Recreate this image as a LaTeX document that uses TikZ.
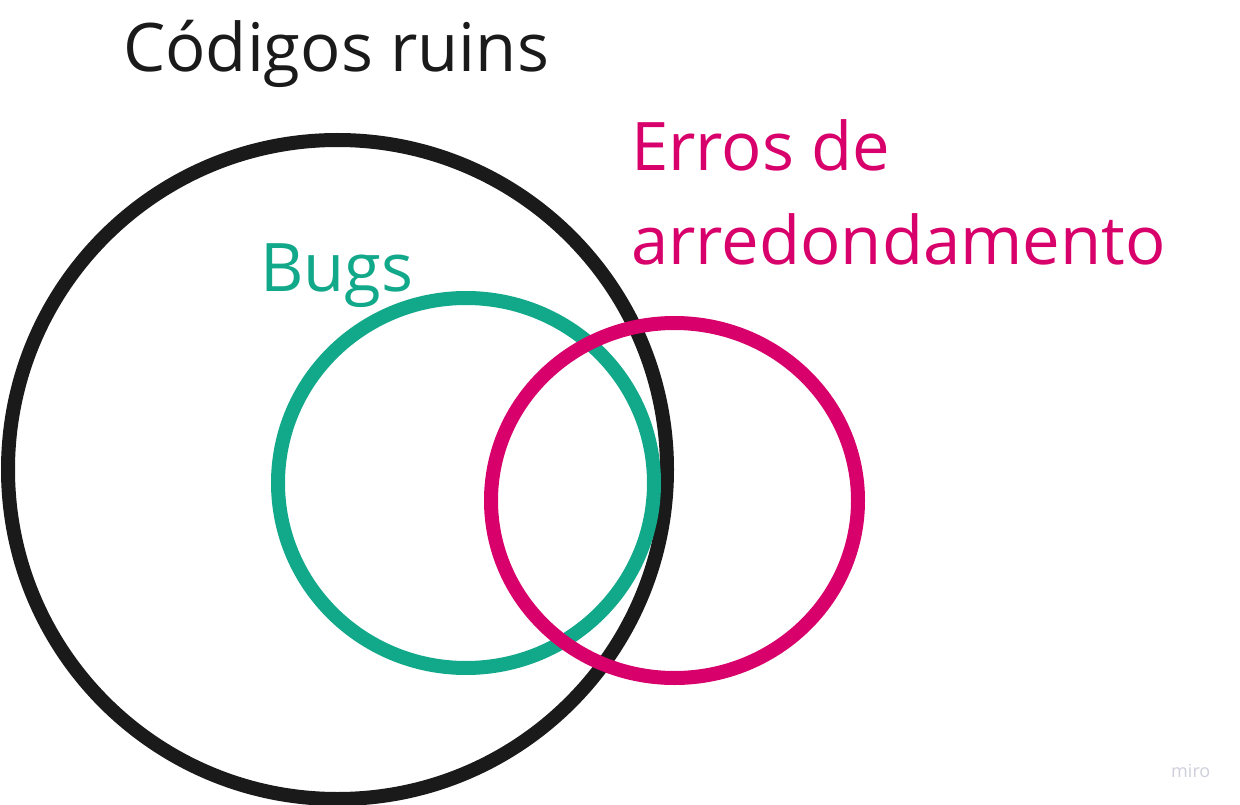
\documentclass[tikz,border=0pt]{standalone}
\usepackage{fontspec}
\setmainfont{Open Sans}
\definecolor{inkblack}{HTML}{1A1A1A}
\definecolor{bugteal}{HTML}{12A88A}
\definecolor{roundpink}{HTML}{D8006A}
\definecolor{logogray}{HTML}{CFCFDC}
\begin{document}
\begin{tikzpicture}[x=1pt,y=-1pt,
  ring/.style={line width=14pt},
  label/.style={anchor=base west,inner sep=0pt,font=\fontsize{67}{94}\selectfont}]
\useasboundingbox (0,0) rectangle (1240,805);
% the three sets
\draw[ring,inkblack] (337.5,469.5) circle [radius=329.5];
\draw[ring,bugteal] (466,483) ellipse [x radius=188, y radius=185];
\draw[ring,roundpink] (674.5,500.5) ellipse [x radius=183.5, y radius=177.5];
% set names
\node[label,text=inkblack] (codigos) at (123,72) {Códigos ruins};
\node[label,text=bugteal] (bugs) at (260,291) {Bugs};
\node[label,text=roundpink] (erros) at (631,171) {Erros de};
\node[label,text=roundpink] (arred) at (631,265) {arredondamento};
\node[anchor=base west,inner sep=0pt,text=logogray,font=\fontsize{18}{18}\selectfont] (logo) at (1171,777) {miro};
\end{tikzpicture}
\end{document}
